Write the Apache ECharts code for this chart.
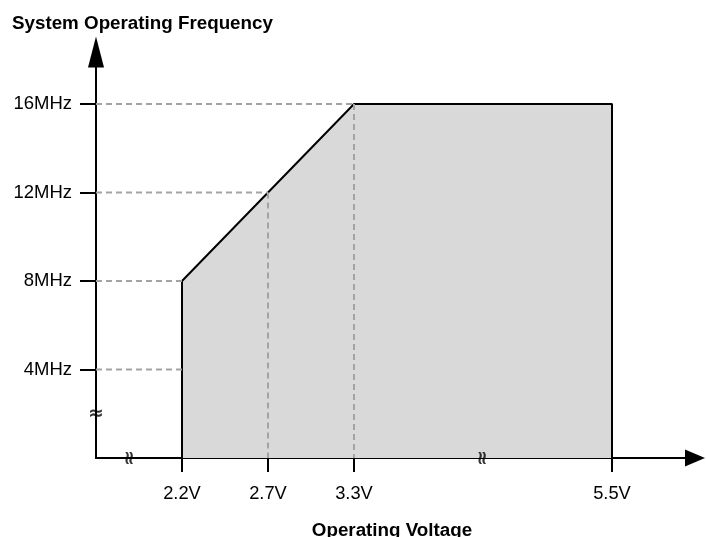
<!DOCTYPE html>
<html>
<head>
<meta charset="utf-8">
<script src="https://cdn.jsdelivr.net/npm/echarts@6/dist/echarts.min.js"></script>
<style>
html,body{margin:0;padding:0;background:#fff;}
#chart{width:706px;height:537px;}
</style>
</head>
<body>
<div id="chart"></div>
<script>
// Voltage points on the (broken) x axis and their axis positions
const voltageLabels = ['2.2V', '2.7V', '3.3V', '5.5V'];
const voltagePos = [1, 2, 3, 6];
// Maximum operating frequency (MHz) at each voltage point
const maxFreq = [8, 12, 16, 16];
// Y tick values (MHz)
const freqTicks = [4, 8, 12, 16];
// Axis break marks
const xBreaks = [0.4, 4.5];
const yBreaks = [2];

const FONT = 'Liberation Sans, Arial, sans-serif';

// Shaded operating region outline
const region = [[voltagePos[0], 0]];
voltagePos.forEach((p, i) => region.push([p, maxFreq[i]]));
region.push([voltagePos[voltagePos.length - 1], 0]);

const dashStyle = { color: '#a3a3a3', width: 2, type: [6, 4] };
const guideSeries = [];
// horizontal guides: from y axis to the boundary
freqTicks.forEach(f => {
  let idx = maxFreq.findIndex(m => m >= f);
  guideSeries.push({
    type: 'line', data: [[0, f], [voltagePos[idx], f]], symbol: 'none',
    lineStyle: dashStyle, z: 3, silent: true
  });
});
// vertical guides for interior voltage points
voltagePos.forEach((p, i) => {
  if (i === 0 || i === voltagePos.length - 1) return;
  guideSeries.push({
    type: 'line', data: [[p, maxFreq[i]], [p, 0]], symbol: 'none',
    lineStyle: dashStyle, z: 3, silent: true
  });
});

const chart = echarts.init(document.getElementById('chart'), null, { renderer: 'canvas' });
chart.setOption({
  animation: false,
  backgroundColor: '#fff',
  title: [
    { text: 'System Operating Frequency', left: 7, top: 9,
      textStyle: { fontFamily: FONT, fontSize: 18.8, fontWeight: 'bold', color: '#000' } },
    { text: 'Operating Voltage', left: 387, top: 516, textAlign: 'center',
      textStyle: { fontFamily: FONT, fontSize: 18.8, fontWeight: 'bold', color: '#000' } }
  ],
  grid: { left: 96, right: 11, top: 52, bottom: 79, containLabel: false },
  xAxis: {
    type: 'value', min: 0, max: 6.965,
    splitLine: { show: false },
    axisLine: { show: true, symbol: ['none', 'triangle'], symbolSize: [17, 20],
      lineStyle: { color: '#000', width: 2 } },
    axisTick: { show: true, length: 14, customValues: voltagePos,
      lineStyle: { color: '#000', width: 2 } },
    axisLabel: { show: true, margin: 27, customValues: voltagePos,
      fontFamily: FONT, fontSize: 18.3, color: '#000',
      formatter: v => { const i = voltagePos.indexOf(v); return i >= 0 ? voltageLabels[i] : ''; } }
  },
  yAxis: {
    type: 'value', min: 0, max: 18.35,
    splitLine: { show: false },
    axisLine: { show: true, symbol: ['none', 'triangle'], symbolSize: [16, 31],
      lineStyle: { color: '#000', width: 2 } },
    axisTick: { show: true, length: 16, customValues: freqTicks,
      lineStyle: { color: '#000', width: 2 } },
    axisLabel: { show: true, margin: 24, customValues: freqTicks,
      fontFamily: FONT, fontSize: 18.5, color: '#000',
      formatter: v => v + 'MHz' }
  },
  series: [
    {
      type: 'line', data: region, symbol: 'none', silent: true, z: 2,
      lineStyle: { color: '#000', width: 2 },
      areaStyle: { color: '#d9d9d9', opacity: 1 }
    },
    ...guideSeries,
    {
      type: 'scatter', symbolSize: 0, silent: true, z: 5,
      data: xBreaks.map(x => [x, 0]),
      label: { show: true, position: 'inside', formatter: '≈', rotate: 90,
        fontFamily: 'DejaVu Sans', fontSize: 19, fontWeight: 'bold', color: '#000' }
    },
    {
      type: 'scatter', symbolSize: 0, silent: true, z: 5,
      data: yBreaks.map(y => [0, y]),
      label: { show: true, position: 'inside', formatter: '≈',
        fontFamily: 'DejaVu Sans', fontSize: 19, fontWeight: 'bold', color: '#000' }
    }
  ]
});
</script>
</body>
</html>
